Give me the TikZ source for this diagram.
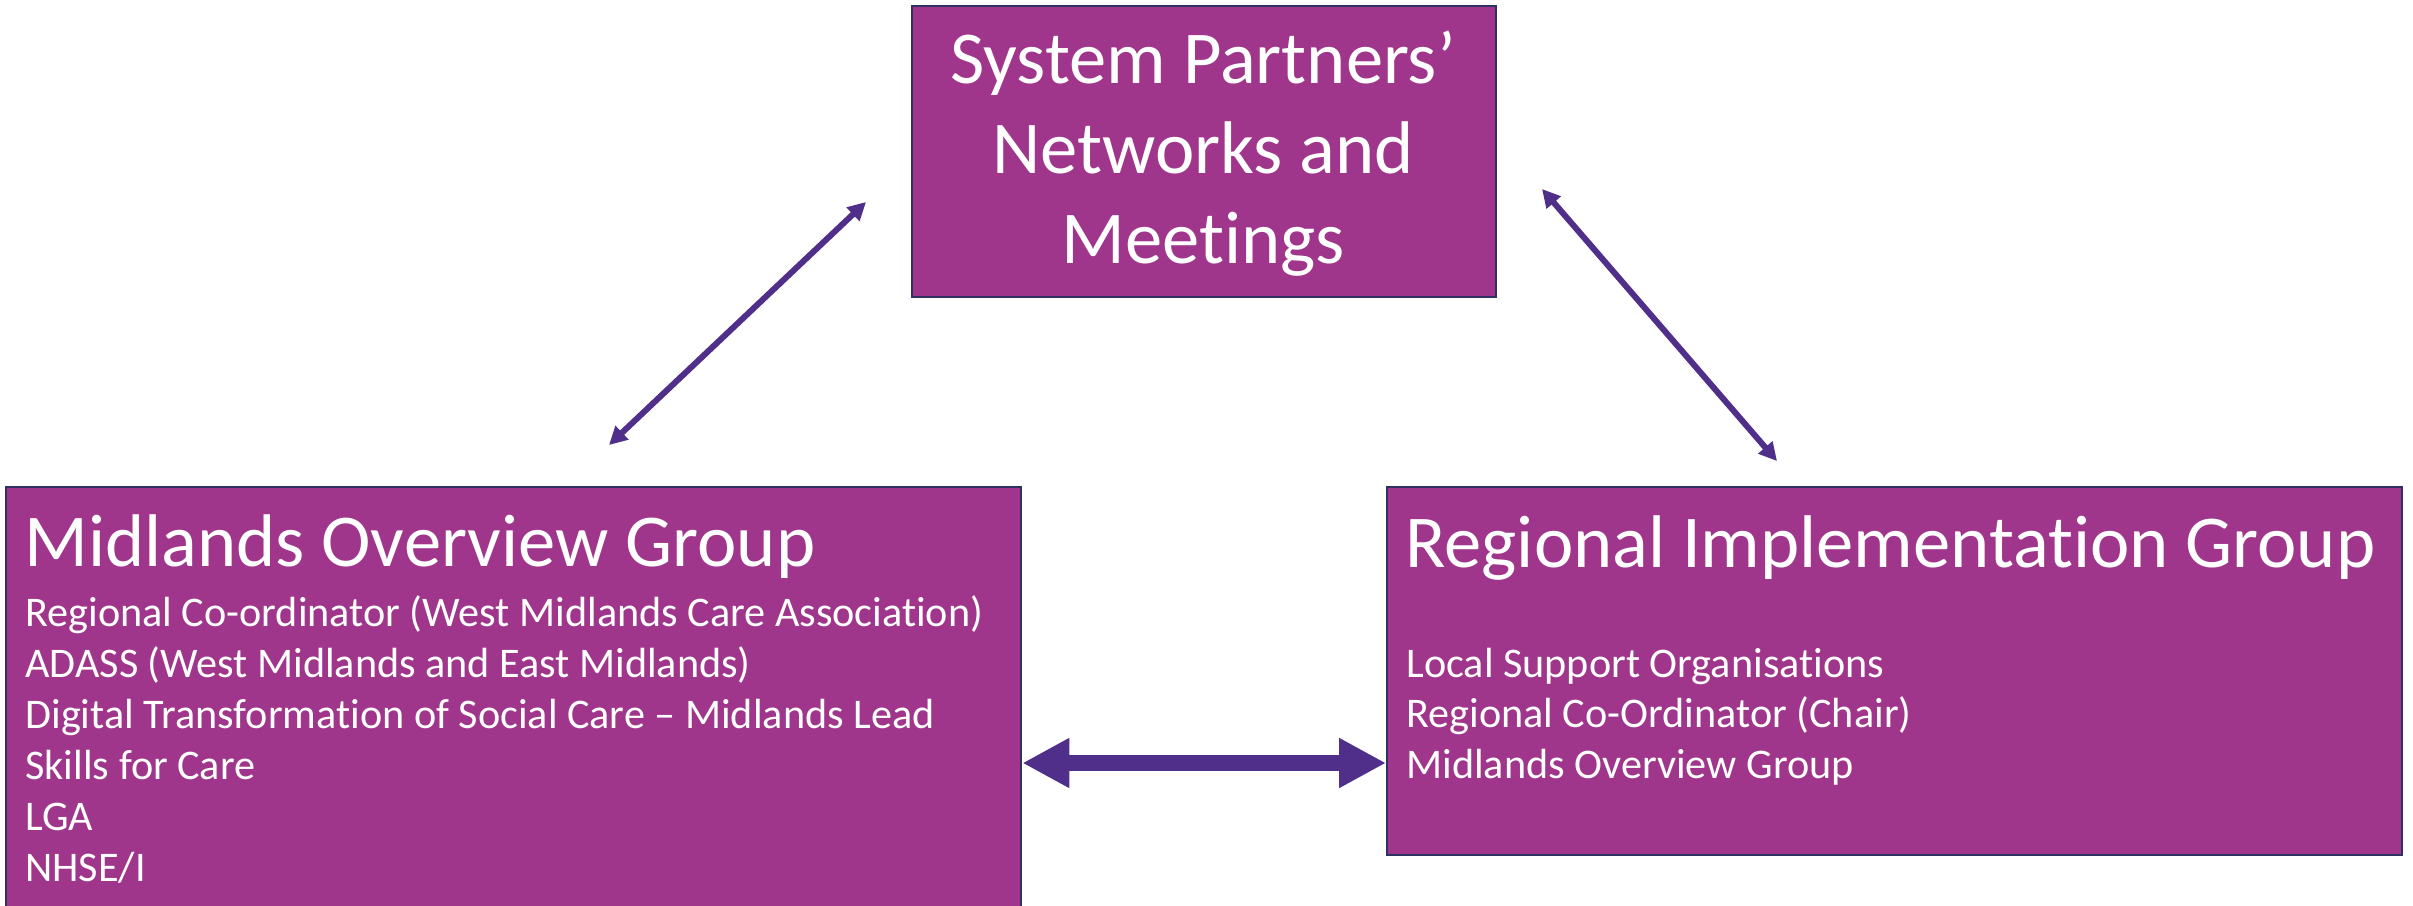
\documentclass[tikz,border=0pt]{standalone}
\usepackage{fontspec}
\setmainfont{Carlito}[Ligatures=NoCommon]
\usetikzlibrary{arrows.meta}
\definecolor{boxfill}{HTML}{A0368B}
\definecolor{boxline}{HTML}{2F3162}
\definecolor{arrowc}{HTML}{4F2F8A}
\tikzset{
  box/.style={draw=boxline, fill=boxfill, line width=1.2pt, inner sep=0pt, anchor=north west},
  bigtxt/.style={text=white, inner sep=0pt, font=\fontsize{37.3pt}{44.5pt}\selectfont},
  smalltxt/.style={text=white, inner sep=0pt, anchor=base west, font=\fontsize{21.1pt}{25.4pt}\selectfont},
  thinarrow/.style={draw=arrowc, line width=3pt, {Triangle[length=9pt,width=9pt]}-{Triangle[length=9pt,width=9pt]}},
  thickarrow/.style={draw=arrowc, line width=8pt, {Triangle[length=23.5pt,width=23.5pt]}-{Triangle[length=23.5pt,width=23.5pt]}}
}
\begin{document}
\begin{tikzpicture}[x=0.5pt,y=-0.5pt]
\fill[white] (0,0) rectangle (2413,905);
\useasboundingbox (0,0) rectangle (2413,905);
\clip (0,0) rectangle (2413,905);
% boxes
\node[box, minimum width=292pt, minimum height=145.5pt] (spn) at (911,5) {};
\node[box, minimum width=507.5pt, minimum height=230pt] (mog) at (5,486) {};
\node[box, minimum width=507.5pt, minimum height=184pt] (rig) at (1386,486) {};
% top box text
\node[bigtxt, anchor=base] (t1) at (1203,83) {System Partners’};
\node[bigtxt, anchor=base] (t2) at (1203,173) {Networks and};
\node[bigtxt, anchor=base] (t3) at (1203,263) {Meetings};
% left box text
\node[bigtxt, anchor=base west] (m0) at (24,566) {Midlands Overview Group};
\node[smalltxt] (m1) at (25,626) {Regional Co-ordinator (West Midlands Care Association)};
\node[smalltxt] (m2) at (25,677) {ADASS (West Midlands and East Midlands)};
\node[smalltxt] (m3) at (25,728) {Digital Transformation of Social Care – Midlands Lead};
\node[smalltxt] (m4) at (25,779) {Skills for Care};
\node[smalltxt] (m5) at (25,830) {LGA};
\node[smalltxt] (m6) at (25,881) {NHSE/I};
% right box text
\node[bigtxt, anchor=base west] (r0) at (1405,567) {Regional Implementation Group};
\node[smalltxt] (r1) at (1406,677) {Local Support Organisations};
\node[smalltxt] (r2) at (1406,727) {Regional Co-Ordinator (Chair)};
\node[smalltxt] (r3) at (1406,778) {Midlands Overview Group};
% connectors
\coordinate (la) at (609,445);
\coordinate (lb) at (866,202);
\coordinate (ra) at (1542,189);
\coordinate (rb) at (1777,461);
\draw[thinarrow] (la) -- (lb);
\draw[thinarrow] (ra) -- (rb);
\draw[thickarrow] ([yshift=-138.5pt]mog.north east) -- ([yshift=-138.5pt]rig.north west);
\end{tikzpicture}
\end{document}
